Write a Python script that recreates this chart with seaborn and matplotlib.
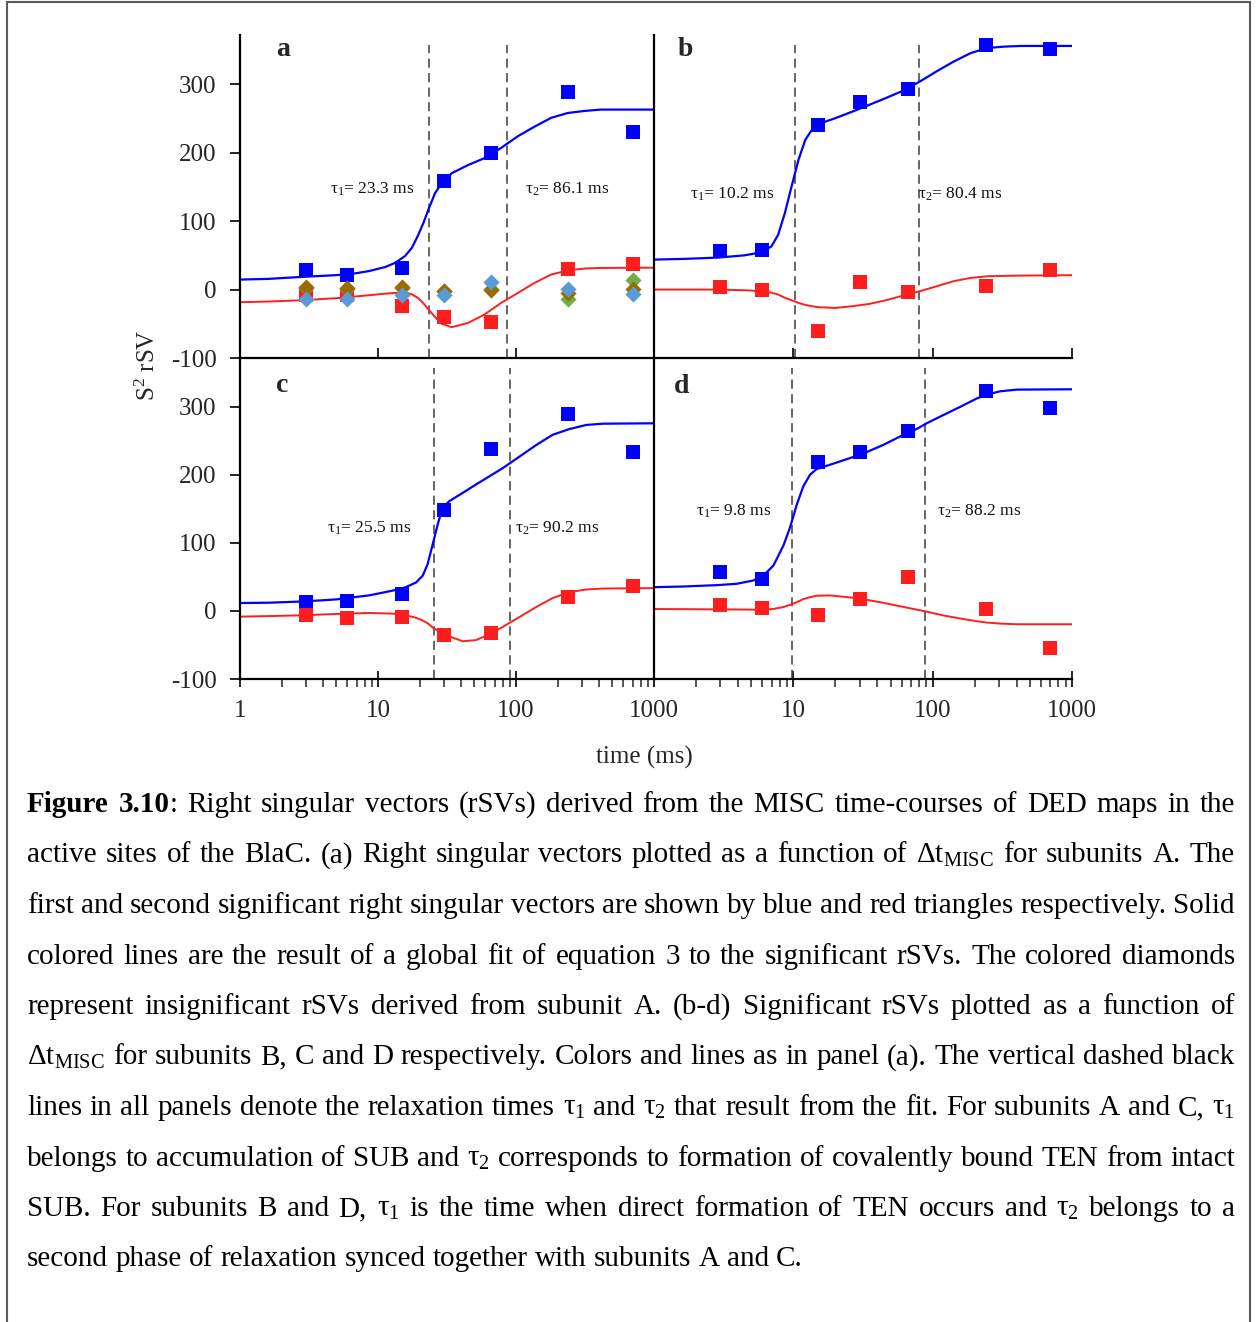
import re
import numpy as np
import pandas as pd
import matplotlib
matplotlib.use("Agg")
import matplotlib.pyplot as plt
from matplotlib.lines import Line2D
from matplotlib.ticker import NullLocator, LogLocator, FixedLocator
import seaborn as sns

# ---------------- data ----------------
TIMES = [3, 6, 15, 30, 66, 240, 700]

A_BLUE = [28, 22, 31.6, 158, 199.5, 288.6, 229.7]
A_RED = [-7.3, -7.3, -23.4, -40, -47, 30, 37.5]
A_BROWN = [3.4, 2.4, 3.9, -1.5, -1, -5, 1]
A_LBLUE = [-13.6, -13.6, -8.3, -8.3, 11.2, 1, -6.3]
A_GREEN = [2, 1, 2, -2, 1, -13.6, 14.6]

B_BLUE = [57, 58.4, 240, 273.5, 293, 357.7, 351.8]
B_RED = [3.4, 0, -60, 10.7, -3.4, 4.9, 28]

C_BLUE = [13, 14.6, 24.3, 149, 237.5, 289.5, 234.5]
C_RED = [-5.4, -9.7, -8.3, -36, -33, 20.4, 36.5]

D_BLUE = [57, 47, 219, 234.5, 264.7, 323, 299]
D_RED = [8.3, 4.4, -6.3, 17, 50.6, 3.4, -55]

# fitted curves
A_FIT_T = [1, 1.6, 2.8, 4.9, 6.5, 8.6, 11.3, 13.3, 15.7, 17.6, 19.6, 21.3, 23.2,
           25.9, 28.9, 34.2, 45, 59, 78, 103, 136, 180, 237, 313, 412, 1000]
A_FIT_BLUE = [14.6, 15.6, 18.5, 21, 23, 27, 33, 39, 49, 61, 80, 97, 117,
              141, 155, 170, 182, 192, 207, 224, 238, 251, 258, 261, 263, 263]
A_FIT_RED = [-18.5, -17.5, -15.6, -12.7, -10.5, -8.3, -6, -4.9, -4, -7, -12.5, -20, -29,
             -40, -50, -55, -48.7, -36.5, -19.5, -5, 9.7, 22, 28, 30.7, 31.6, 32]

B_FIT_T = [1, 1.63, 2.85, 4.46, 5.89, 6.96, 7.78, 8.7, 9.72, 10.9, 12.2, 13.6, 15.2,
           20.1, 26.5, 35.1, 46.3, 61.2, 80.9, 107, 141, 187, 247, 326, 431, 1000]
B_FIT_BLUE = [43.8, 44.8, 46.7, 50, 54.5, 63, 80, 112, 151, 190, 219, 233.6, 242,
              250.6, 260, 270, 280, 290.5, 304, 319, 333, 345.5, 353, 355, 356, 356]
B_FIT_RED = [0, 0, 0, -1, -2.4, -4.5, -7.3, -12, -15.6, -19.5, -22.4, -24.3, -25.8,
             -26.8, -24.3, -21, -15.6, -8.8, -2.4, 4.9, 12.2, 17, 19.5, 20, 20.4, 21]

C_FIT_T = [1, 1.63, 2.85, 4.96, 8.65, 12.8, 15.9, 18.9, 21.1, 22.9, 24.9, 27.1, 29.4,
           32.9, 41.1, 51.3, 64.1, 80.1, 106, 140, 184, 244, 322, 425, 1000]
C_FIT_BLUE = [11.7, 12.2, 14, 17, 23, 30, 35, 42, 52, 69, 98, 127.5, 152,
              161.6, 173.7, 186, 198, 210, 227, 244, 259, 267.6, 273.5, 275.4, 276]
C_FIT_RED = [-8.3, -7.5, -6.3, -4.4, -2.9, -3.9, -6.3, -10, -14, -18, -24.3, -29, -33,
             -37.5, -44.5, -42.8, -34.5, -23.4, -8.8, 5.8, 19, 27.7, 31.6, 33, 33.6]

D_FIT_T = [1, 1.62, 2.82, 3.92, 5.16, 6.09, 7.19, 8.48, 9.46, 10.6, 11.8, 13.2, 14.7,
           18.3, 25.5, 33.6, 44.3, 61.6, 76.8, 90.6, 119, 157, 207, 244, 304, 401, 1000]
D_FIT_BLUE = [35, 36, 38, 40, 44.8, 52, 66.7, 96, 122.6, 156.7, 183.5, 200.5, 208.8,
              215, 224.8, 233.6, 244.3, 259, 267.6, 276, 288, 300, 312.4, 318, 323, 325.5, 326]
D_FIT_RED = [2.9, 2.7, 2.4, 2.2, 2, 1.9, 3, 5.8, 9, 13, 17.5, 20.4, 22.4,
             22.9, 20, 16.5, 12, 6, 2, -1, -6.5, -11, -15, -17, -18.5, -19.5, -19.5]

TAUS = {"a": (23.3, 86.1), "b": (10.2, 80.4), "c": (25.5, 90.2), "d": (9.8, 88.2)}

X_TICKS = [1, 10, 100, 1000]
X_LABELS_C = ["1", "10", "100", "1000"]
X_LABELS_D = ["", "10", "100", "1000"]
Y_TICKS = [-100, 0, 100, 200, 300]
Y_LABELS = ["-100", "0", "100", "200", "300"]

CAPTION = [
    "**Figure** **3.10**: Right singular vectors (rSVs) derived from the MISC time-courses of DED maps in the",
    r"active sites of the BlaC. (a) Right singular vectors plotted as a function of $\mathregular{Δt_{MISC}}$ for subunits A. The",
    "first and second significant right singular vectors are shown by blue and red triangles respectively. Solid",
    "colored lines are the result of a global fit of equation 3 to the significant rSVs. The colored diamonds",
    "represent insignificant rSVs derived from subunit A. (b-d) Significant rSVs plotted as a function of",
    r"$\mathregular{Δt_{MISC}}$ for subunits B, C and D respectively. Colors and lines as in panel (a). The vertical dashed black",
    r"lines in all panels denote the relaxation times $\mathregular{τ_1}$ and $\mathregular{τ_2}$ that result from the fit. For subunits A and C, $\mathregular{τ_1}$",
    r"belongs to accumulation of SUB and $\mathregular{τ_2}$ corresponds to formation of covalently bound TEN from intact",
    r"SUB. For subunits B and D, $\mathregular{τ_1}$ is the time when direct formation of TEN occurs and $\mathregular{τ_2}$ belongs to a",
    "second phase of relaxation synced together with subunits A and C.",
]

# ---------------- style ----------------
sns.set_theme(style="white")
plt.rcParams["font.family"] = ["Liberation Serif", "DejaVu Serif"]
plt.rcParams["mathtext.fontset"] = "custom"
plt.rcParams["mathtext.rm"] = "Liberation Serif"
plt.rcParams["axes.edgecolor"] = "black"

BLUE = "#0000FF"
RED = "#FF1E1E"
BROWN = "#9A6C00"
LBLUE = "#5B9BD5"
GREEN = "#70AD47"

W, H = 1258, 1322
fig = plt.figure(figsize=(W / 100, H / 100), dpi=100)


def px_axes(x0, y0, x1, y1):
    return fig.add_axes([x0 / W, 1 - y1 / H, (x1 - x0) / W, (y1 - y0) / H])


ax_a = px_axes(240, 35, 654, 358)
ax_b = px_axes(654, 35, 1072, 358)
ax_c = px_axes(240, 358, 654, 679)
ax_d = px_axes(654, 358, 1072, 679)

panels = [
    (ax_a, "a", A_BLUE, A_RED, A_FIT_T, A_FIT_BLUE, A_FIT_RED),
    (ax_b, "b", B_BLUE, B_RED, B_FIT_T, B_FIT_BLUE, B_FIT_RED),
    (ax_c, "c", C_BLUE, C_RED, C_FIT_T, C_FIT_BLUE, C_FIT_RED),
    (ax_d, "d", D_BLUE, D_RED, D_FIT_T, D_FIT_BLUE, D_FIT_RED),
]

letter_pos = {"a": (0.087, 0.935), "b": (0.057, 0.935), "c": (0.087, 0.894), "d": (0.048, 0.891)}
tau_pos = {"a": ((4.5, 146), (116, 146)), "b": ((1.81, 139), (78.6, 139)),
           "c": ((4.27, 122), (98, 122)), "d": ((2.0, 147), (107.6, 147))}

for ax, key, blue, red, ft, fb, fr in panels:
    ax.set_xscale("log")
    ax.set_xlim(1, 1000)
    ax.set_ylim(-100, 372)
    ax.set_facecolor("none")
    for s in ["top", "right"]:
        ax.spines[s].set_visible(False)
    for s in ["left", "bottom"]:
        ax.spines[s].set_linewidth(1.6)
        ax.spines[s].set_color("black")

    sns.lineplot(x=ft, y=fb, ax=ax, color=BLUE, linewidth=1.6, sort=False,
                 estimator=None, zorder=2)
    sns.lineplot(x=ft, y=fr, ax=ax, color=RED, linewidth=1.4, sort=False,
                 estimator=None, zorder=2)
    sns.scatterplot(x=TIMES, y=blue, ax=ax, marker="s", s=88, color=BLUE,
                    linewidth=0, zorder=3)
    sns.scatterplot(x=TIMES, y=red, ax=ax, marker="s", s=88, color=RED,
                    linewidth=0, zorder=3)

    t1, t2 = TAUS[key]
    for t in (t1, t2):
        ax.axvline(t, ymin=0.0, ymax=0.97, color="#3c3c3c", lw=1.1,
                   dashes=(6, 3.5), zorder=1)

    (p1x, p1y), (p2x, p2y) = tau_pos[key]
    ax.text(p1x, p1y, r"$\mathregular{τ_1}$= %.1f ms" % t1, fontsize=12.5,
            ha="left", va="center", color="#111111")
    ax.text(p2x, p2y, r"$\mathregular{τ_2}$= %.1f ms" % t2, fontsize=12.5,
            ha="left", va="center", color="#111111")

    lx, ly = letter_pos[key]
    ax.text(lx, ly, key, transform=ax.transAxes, fontsize=20, fontweight="bold",
            ha="left", va="baseline")

    ax.xaxis.set_major_locator(FixedLocator(X_TICKS))
    ax.set_ylabel("")
    ax.set_xlabel("")

# diamonds (insignificant rSVs) in panel a
for vals, col in [(A_GREEN, GREEN), (A_BROWN, BROWN), (A_LBLUE, LBLUE)]:
    sns.scatterplot(x=TIMES, y=vals, ax=ax_a, marker="D", s=68, color=col,
                    linewidth=0, zorder=4)

# ticks: top row
for ax in (ax_a, ax_b):
    ax.xaxis.set_minor_locator(NullLocator())
    ax.tick_params(axis="x", which="major", direction="in", length=7, width=1.4,
                   labelbottom=False, bottom=True)
# ticks: bottom row
for ax, labels in ((ax_c, X_LABELS_C), (ax_d, X_LABELS_D)):
    ax.set_xticklabels(labels)
    ax.xaxis.set_minor_locator(LogLocator(base=10, subs=np.arange(2, 10)))
    ax.tick_params(axis="x", which="major", direction="inout", length=12, width=1.4,
                   labelsize=18, pad=9, bottom=True)
    ax.tick_params(axis="x", which="minor", direction="out", length=6, width=1.1,
                   bottom=True, labelbottom=False)
# y ticks
for ax in (ax_a, ax_c):
    ax.yaxis.set_major_locator(FixedLocator(Y_TICKS))
    ax.set_yticklabels(Y_LABELS)
    ax.tick_params(axis="y", which="major", direction="out", length=7, width=1.4,
                   labelsize=18, pad=10, left=True)
for ax in (ax_b, ax_d):
    ax.yaxis.set_major_locator(FixedLocator(Y_TICKS))
    ax.tick_params(axis="y", left=False, labelleft=False)

ax_b.set_zorder(ax_a.get_zorder() + 1)
ax_d.set_zorder(ax_c.get_zorder() + 1)

# axis titles
fig.text(148 / W, 1 - 365 / H, r"S$\mathregular{^2}$ rSV", rotation=90, fontsize=18,
         ha="center", va="center")
fig.text(644 / W, 1 - 757 / H, "time (ms)", fontsize=18, ha="center", va="center")

# ---------------- caption (justified) ----------------
CAP_FS = 21
LEFT, RIGHT = 27, 1235
BASE0, STEP = 812, 50.5
renderer = fig.canvas.get_renderer()


def parse_word(word):
    segs = []
    pos = 0
    for m in re.finditer(r"\*\*(.+?)\*\*", word):
        if m.start() > pos:
            segs.append((word[pos:m.start()], "normal"))
        segs.append((m.group(1), "bold"))
        pos = m.end()
    if pos < len(word):
        segs.append((word[pos:], "normal"))
    return segs


def text_width(s, weight):
    t = fig.text(0, 0, s, fontsize=CAP_FS, fontweight=weight)
    w = t.get_window_extent(renderer).width
    t.remove()
    return w


space_w = text_width("a a", "normal") - 2 * text_width("a", "normal")

for i, line in enumerate(CAPTION):
    words = [parse_word(w) for w in line.split(" ")]
    widths = [[text_width(s, wt) for s, wt in segs] for segs in words]
    total = sum(sum(w) for w in widths)
    if i < len(CAPTION) - 1 and len(words) > 1:
        gap = (RIGHT - LEFT - total) / (len(words) - 1)
    else:
        gap = space_w
    x = LEFT
    y = 1 - (BASE0 + i * STEP) / H
    for segs, ws in zip(words, widths):
        for (s, wt), w in zip(segs, ws):
            fig.text(x / W, y, s, fontsize=CAP_FS, fontweight=wt, ha="left",
                     va="baseline", color="black")
            x += w
        x += gap

# ---------------- frame ----------------
frame_col = "#5a5a5a"
fig.add_artist(Line2D([7 / W, 7 / W], [0, 1 - 1.5 / H], transform=fig.transFigure,
                      color=frame_col, lw=1.5))
fig.add_artist(Line2D([1250 / W, 1250 / W], [0, 1 - 1.5 / H], transform=fig.transFigure,
                      color=frame_col, lw=1.5))
fig.add_artist(Line2D([7 / W, 1250 / W], [1 - 1.5 / H, 1 - 1.5 / H],
                      transform=fig.transFigure, color=frame_col, lw=1.5))

fig.savefig("out.png", dpi=100, facecolor="white")
